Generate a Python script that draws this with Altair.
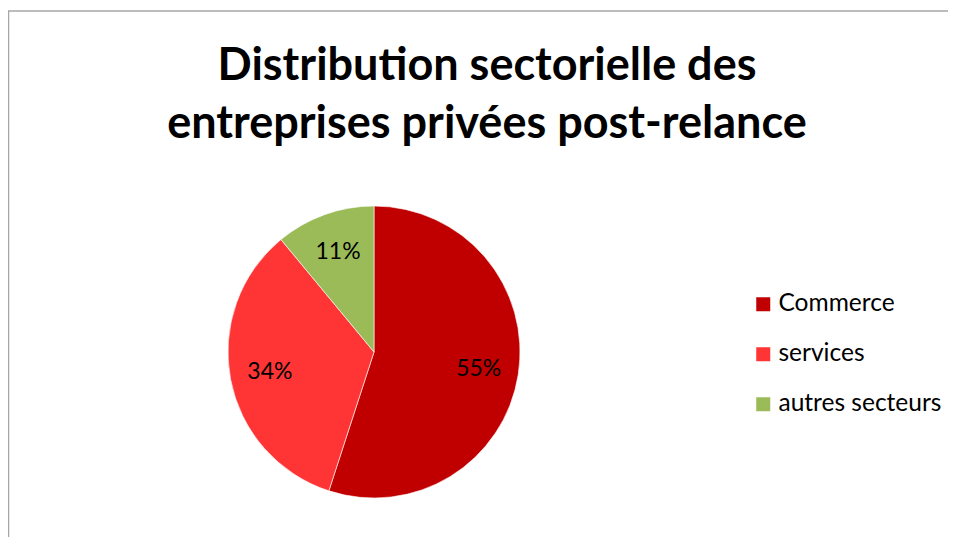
import altair as alt
import pandas as pd

categories = ["Commerce", "services", "autres secteurs"]
values = [55, 34, 11]
labels = ["55%", "34%", "11%"]
colors = ["#C00000", "#FF3535", "#9BBB59"]
title_lines = ["Distribution sectorielle des", "entreprises privées post-relance"]

df = pd.DataFrame({"secteur": categories, "part": values, "label": labels, "ordre": [0, 1, 2]})

W, H = 940, 529
CX, CY = 366, 344
FONT = "Lato"

base = alt.Chart(df).encode(
    theta=alt.Theta("part:Q", stack=True),
    order=alt.Order("ordre:Q"),
)

pie = base.mark_arc(outerRadius=146, stroke="white", strokeWidth=0.6).encode(
    x=alt.value(CX),
    y=alt.value(CY),
    color=alt.Color(
        "secteur:N",
        scale=alt.Scale(domain=categories, range=colors),
        sort=categories,
        legend=alt.Legend(
            title=None,
            orient="none",
            legendX=743,
            legendY=284,
            symbolType="square",
            symbolSize=196,
            symbolStrokeWidth=0,
            labelFontSize=24.5,
            labelFont=FONT,
            labelColor="black",
            labelOffset=3,
            labelLimit=400,
            rowPadding=25,
        ),
    ),
)

pct = base.mark_text(radius=106, fontSize=23, font=FONT, color="black").encode(
    text="label:N",
    x=alt.value(CX),
    y=alt.value(CY),
)

t1 = alt.Chart(pd.DataFrame({"t": [title_lines[0]]})).mark_text(
    fontSize=45, font=FONT, fontWeight="bold", color="black", baseline="alphabetic", align="center"
).encode(text="t:N", x=alt.value(479), y=alt.value(72))

t2 = alt.Chart(pd.DataFrame({"t": [title_lines[1]]})).mark_text(
    fontSize=45, font=FONT, fontWeight="bold", color="black", baseline="alphabetic", align="center"
).encode(text="t:N", x=alt.value(479), y=alt.value(130))

frame = pd.DataFrame({"a": [0]})
top_rule = alt.Chart(frame).mark_rule(color="#A6A6A6", strokeWidth=1.5).encode(
    x=alt.value(0), x2=alt.value(W), y=alt.value(3)
)
left_rule = alt.Chart(frame).mark_rule(color="#A6A6A6", strokeWidth=1.5).encode(
    x=alt.value(0.5), y=alt.value(3), y2=alt.value(H)
)

chart = alt.layer(top_rule, left_rule, pie, pct, t1, t2).properties(
    width=W, height=H, padding=0, autosize=alt.AutoSizeParams(type="none")
).configure_view(stroke=None)

chart.save("out.html", embed_options={"renderer": "svg", "actions": False})
